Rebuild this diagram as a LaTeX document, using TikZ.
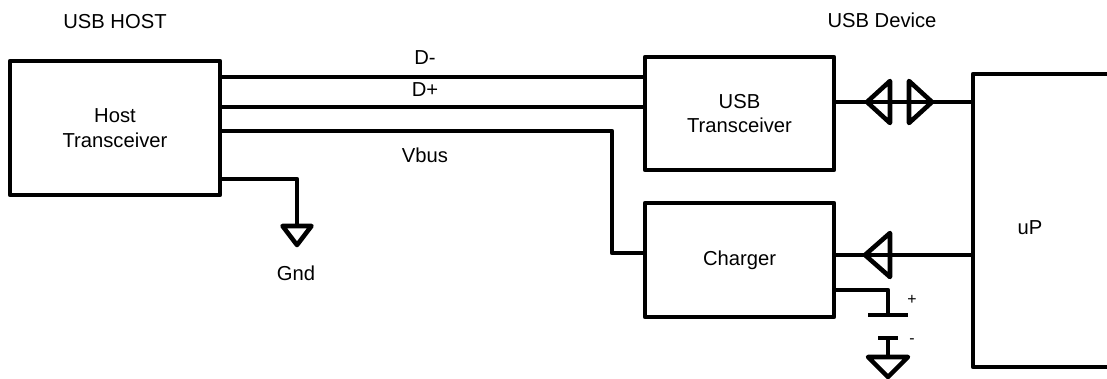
\documentclass[tikz,border=0pt]{standalone}
\usepackage{fontspec}
\setmainfont{Liberation Sans}
\begin{document}
\begin{tikzpicture}[x=0.02cm, y=-0.02cm, line width=2.6pt, line join=round,
    caja/.style={draw, line width=2.6pt, align=center, inner sep=0pt},
    txt/.style={font=\fontsize{11.5}{14}\selectfont, align=center},
    signo/.style={font=\fontsize{9}{10}\selectfont}]
    \useasboundingbox (0,0) rectangle (1107,379);

    % Cajas
    \node[caja, txt, minimum width=4.2cm, minimum height=2.68cm] (host) at (115,128) {Host\\Transceiver};
    \node[caja, txt, minimum width=3.78cm, minimum height=2.26cm] (usb) at (739.5,113.5) {USB\\Transceiver};
    \node[caja, txt, minimum width=3.78cm, minimum height=2.28cm] (charger) at (739.5,260) {Charger};
    \node[caja, minimum width=4.14cm, minimum height=5.86cm] (up) at (1076.5,220.5) {};
    \node[txt] (uplbl) at (1030,228) {uP};

    % Titulos
    \node[txt] (hosttit) at (115,22) {USB HOST};
    \node[txt] (devtit) at (882,20) {USB Device};

    % Puntos de paso
    \coordinate (dm) at (430,77);
    \coordinate (dp) at (430,107);
    \coordinate (vb) at (612,131);
    \coordinate (vb2) at (612,253);
    \coordinate (g1) at (297,179);
    \coordinate (gnd) at (297,226);
    \coordinate (da) at (900,102);
    \coordinate (ca) at (900,255);
    \coordinate (bt) at (888,290);
    \coordinate (bp) at (888,315);
    \coordinate (bm) at (888,338);
    \coordinate (bg) at (888,357);

    % Lineas del bus
    \draw (host.east |- dm) -- (usb.west |- dm);
    \draw (host.east |- dp) -- (usb.west |- dp);
    \draw (host.east |- vb) -- (vb) -- (vb2) -- (charger.west |- vb2);
    \node[txt] (dmlbl) at (425,58) {D-};
    \node[txt] (dplbl) at (425,90) {D+};
    \node[txt] (vblbl) at (425,155) {Vbus};

    % Tierra del host
    \draw (host.east |- g1) -- (g1) -- (gnd);
    \draw (gnd) ++(-14.5,0) -- ++(29,0) -- ++(-14.5,19) -- cycle;
    \node[txt] (gndlbl) at (296,273) {Gnd};

    % Datos USB <-> uP
    \draw (usb.east |- da) -- (up.west |- da);
    \draw (867,102) -- (890,81) -- (890,123) -- cycle;
    \draw (932,102) -- (909,81) -- (909,123) -- cycle;

    % Control del cargador
    \draw (up.west |- ca) -- (charger.east |- ca);
    \draw (865,255) -- (890,233) -- (890,277) -- cycle;

    % Bateria
    \draw (charger.east |- bt) -- (bt) -- (bp);
    \draw (868,315) -- (908,315);
    \draw (878,338) -- (898,338);
    \draw (bm) -- (bg);
    \draw (bg) ++(-20,0) -- ++(40,0) -- ++(-20,20) -- cycle;
    \node[signo] (mas) at (912,300) {+};
    \node[signo] (menos) at (912,341) {-};
\end{tikzpicture}
\end{document}
